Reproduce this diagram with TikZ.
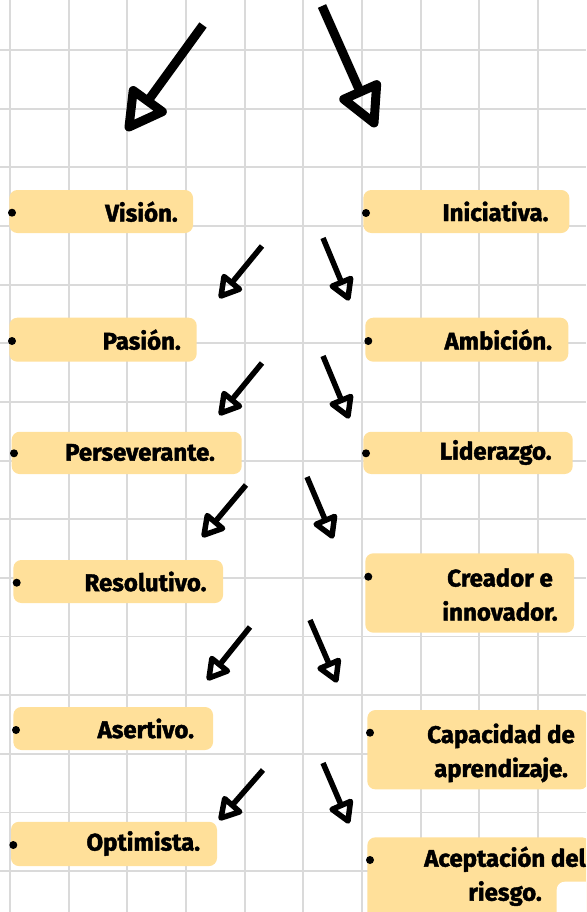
\documentclass[tikz,border=0pt]{standalone}
\usepackage{fontspec}
\setmainfont{Fira Sans}[BoldFeatures={FakeBold=1.8}]
\usetikzlibrary{arrows.meta, positioning, calc}
\definecolor{cuadro}{HTML}{FFE09A}
\definecolor{rejilla}{HTML}{DADADA}

% hand-drawn arrow: start, tip, head length, head half width, line width
\newcommand{\flecha}[5]{%
  \coordinate (base) at ($(#2)!#3!(#1)$);
  \draw[line width=#5] (#1) -- (base);
  \draw[line width=#5, line join=round] (#2) -- ($(base)!#4!90:(#2)$) -- ($(base)!#4!-90:(#2)$) -- cycle;
}

\begin{document}
\begin{tikzpicture}[
  x=1pt, y=-1pt,
  caja/.style = {rectangle, rounded corners=8pt, fill=cuadro, inner sep=0pt},
  etiqueta/.style = {font=\fontsize{24}{34}\selectfont\bfseries, align=center, inner sep=0pt},
  vineta/.style = {circle, fill=black, inner sep=0pt, minimum size=8pt},
  linea/.style = {rejilla, line width=1.9pt}
]

% Page
\clip (0,0) rectangle (586,912);
\fill[white] (0,0) rectangle (586,912);

% Squared paper
\foreach \i in {0,...,9} \draw[linea] ({10+58.65*\i},0) -- ({10+58.65*\i},912);
\foreach \j in {0,...,14} \draw[linea] (0,{50+58.65*\j}) -- (586,{50+58.65*\j});

% Left column
\node[caja, minimum width=183.7pt, minimum height=43pt] (vision) at (101.2,211.5) {};
\node[caja, minimum width=187.4pt, minimum height=44pt] (pasion) at (103,339.7) {};
\node[caja, minimum width=230pt, minimum height=42.3pt] (persev) at (126.7,452.9) {};
\node[caja, minimum width=209.7pt, minimum height=43pt] (resol) at (118.2,581.5) {};
\node[caja, minimum width=199.7pt, minimum height=43pt] (asert) at (113.2,728.5) {};
\node[caja, minimum width=206pt, minimum height=44.3pt] (optim) at (114,843.9) {};

\node[etiqueta] (vision-t) at (141.5,211.7) {Visión.};
\node[etiqueta] (pasion-t) at (141.7,339.7) {Pasión.};
\node[etiqueta] (persev-t) at (140,452.5) {Perseverante.};
\node[etiqueta] (resol-t) at (145.5,581.5) {Resolutivo.};
\node[etiqueta] (asert-t) at (145.8,728.5) {Asertivo.};
\node[etiqueta] (optim-t) at (143.3,843.5) {Optimista.};

\node[vineta] (vision-b) at (12,212.7) {};
\node[vineta] (pasion-b) at (12,341) {};
\node[vineta] (persev-b) at (14,453.3) {};
\node[vineta] (resol-b) at (16.7,582.7) {};
\node[vineta] (asert-b) at (16,730) {};
\node[vineta] (optim-b) at (13.3,845) {};

% Right column
\node[caja, minimum width=206pt, minimum height=43pt] (inic) at (466.3,211.5) {};
\node[caja, minimum width=203pt, minimum height=44pt] (ambic) at (466.8,339.7) {};
\node[caja, minimum width=209.4pt, minimum height=42.3pt] (lider) at (468,452.9) {};
\node[caja, minimum width=208.7pt, minimum height=79.4pt] (creador) at (469.7,593) {};
\node[caja, minimum width=220.7pt, minimum height=79.3pt] (capac) at (477.7,749.7) {};
\node[caja, minimum width=222.7pt, minimum height=87.7pt] (acept) at (478.7,881.2) {};
\node[fill=white, rounded corners=8pt, minimum width=50pt, minimum height=50pt, inner sep=0pt] (parche) at (581.7,906.7) {};

\node[etiqueta] (inic-t) at (495.5,211.5) {Iniciativa.};
\node[etiqueta] (ambic-t) at (498.3,339.7) {Ambición.};
\node[etiqueta] (lider-t) at (495.7,452.5) {Liderazgo.};
\node[etiqueta] (creador-t) at (500,594.6) {Creador e\\innovador.};
\node[etiqueta] (capac-t) at (501,752.9) {Capacidad de\\aprendizaje.};
\node[etiqueta] (acept-t) at (505,876.3) {Aceptación del\\riesgo.};

\node[vineta] (inic-b) at (366,213) {};
\node[vineta] (ambic-b) at (368.3,341) {};
\node[vineta] (lider-b) at (366,453.3) {};
\node[vineta] (creador-b) at (368.3,576.7) {};
\node[vineta] (capac-b) at (370,732.7) {};
\node[vineta] (acept-b) at (370,860) {};

% Big arrows on top
\coordinate (gi-0) at (203,25);  \coordinate (gi-1) at (129,127);
\coordinate (gd-0) at (322,6);   \coordinate (gd-1) at (374,123);
\flecha{gi-0}{gi-1}{32pt}{18pt}{9pt}
\flecha{gd-0}{gd-1}{34pt}{18pt}{9pt}

% Small arrows between rows
\coordinate (i1-0) at (262,246); \coordinate (i1-1) at (221,296);
\coordinate (d1-0) at (323,238); \coordinate (d1-1) at (348,298);
\coordinate (i2-0) at (262,363); \coordinate (i2-1) at (221,413);
\coordinate (d2-0) at (323,356); \coordinate (d2-1) at (348,416);
\coordinate (i3-0) at (246,485); \coordinate (i3-1) at (204,535);
\coordinate (d3-0) at (307,477); \coordinate (d3-1) at (332,536);
\coordinate (i4-0) at (250,627); \coordinate (i4-1) at (209,678);
\coordinate (d4-0) at (310,620); \coordinate (d4-1) at (336,680);
\coordinate (i5-0) at (263,770); \coordinate (i5-1) at (221,818);
\coordinate (d5-0) at (323,763); \coordinate (d5-1) at (348,821);

\flecha{i1-0}{i1-1}{17pt}{10pt}{5.5pt}
\flecha{d1-0}{d1-1}{17pt}{10pt}{5.5pt}
\flecha{i2-0}{i2-1}{17pt}{10pt}{5.5pt}
\flecha{d2-0}{d2-1}{17pt}{10pt}{5.5pt}
\flecha{i3-0}{i3-1}{17pt}{10pt}{5.5pt}
\flecha{d3-0}{d3-1}{17pt}{10pt}{5.5pt}
\flecha{i4-0}{i4-1}{17pt}{10pt}{5.5pt}
\flecha{d4-0}{d4-1}{17pt}{10pt}{5.5pt}
\flecha{i5-0}{i5-1}{17pt}{10pt}{5.5pt}
\flecha{d5-0}{d5-1}{17pt}{10pt}{5.5pt}

\end{tikzpicture}
\end{document}
